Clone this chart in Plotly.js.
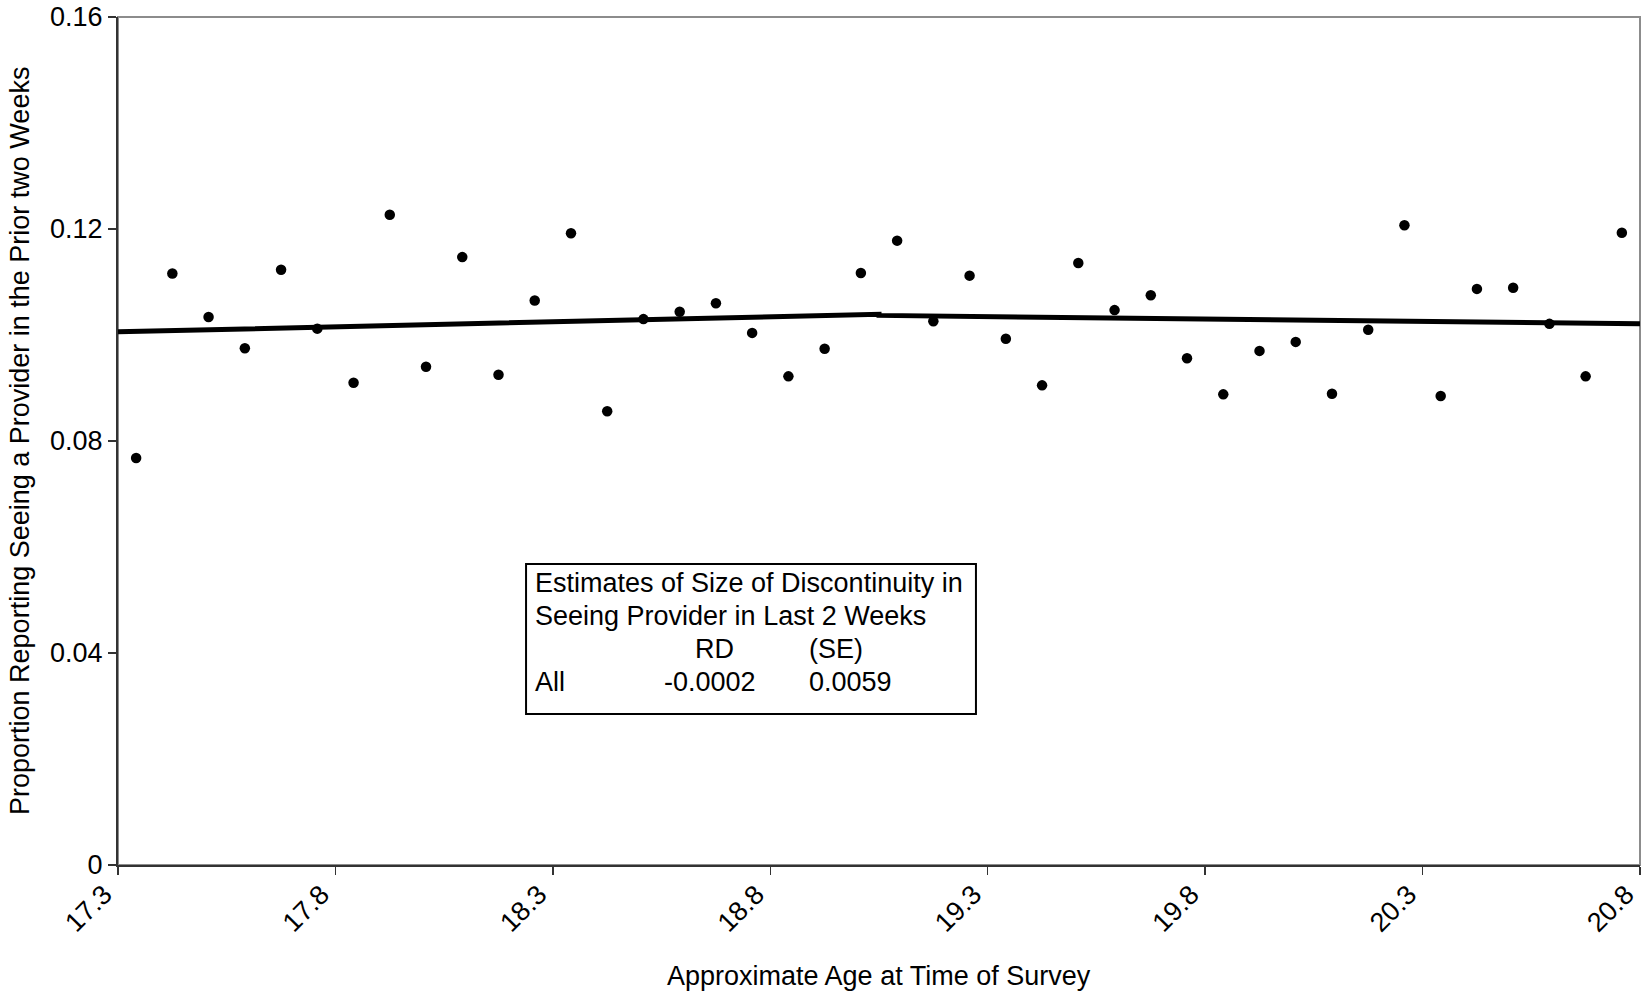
<!DOCTYPE html>
<html>
<head>
<meta charset="utf-8">
<script src="https://cdn.plot.ly/plotly-3.0.1.min.js"></script>
<style>
  html, body { margin: 0; padding: 0; background: #fff; }
  #chart { width: 1642px; height: 997px; }
</style>
</head>
<body>
<div id="chart"></div>
<script>
// Monthly age bins (years) and the share who saw a provider in the prior two weeks
const ageBins = [17.3417, 17.425, 17.5083, 17.5917, 17.675, 17.7583, 17.8417, 17.925,
  18.0083, 18.0917, 18.175, 18.2583, 18.3417, 18.425, 18.5083, 18.5917, 18.675,
  18.7583, 18.8417, 18.925, 19.0083, 19.0917, 19.175, 19.2583, 19.3417, 19.425,
  19.5083, 19.5917, 19.675, 19.7583, 19.8417, 19.925, 20.0083, 20.0917, 20.175,
  20.2583, 20.3417, 20.425, 20.5083, 20.5917, 20.675, 20.7583];
const shareSeen = [0.0768, 0.1116, 0.1034, 0.0975, 0.1123, 0.1012, 0.0910, 0.1227,
  0.0940, 0.1147, 0.0925, 0.1065, 0.1192, 0.0856, 0.1030, 0.1044, 0.1060,
  0.1004, 0.0922, 0.0974, 0.1117, 0.1178, 0.1026, 0.1112, 0.0993, 0.0905,
  0.1136, 0.1047, 0.1075, 0.0956, 0.0888, 0.0970, 0.0987, 0.0889, 0.1010,
  0.1207, 0.0885, 0.1087, 0.1089, 0.1021, 0.0922, 0.1193];

// Fitted values on each side of the cutoff (left fit ends, right fit starts at 19.05)
const fitAge = [17.3, 19.05, 19.05, 20.8];
const fitShare = [0.1006, 0.1039, 0.1037, 0.1021];

// Axis ticks
const xTickVals = [17.3, 17.8, 18.3, 18.8, 19.3, 19.8, 20.3, 20.8];
const xTickText = ['17.3', '17.8', '18.3', '18.8', '19.3', '19.8', '20.3', '20.8'];
const yTickVals = [0, 0.04, 0.08, 0.12, 0.16];
const yTickText = ['0', '0.04', '0.08', '0.12', '0.16'];

// Discontinuity estimate table
const estTitle = ['Estimates of Size of Discontinuity in', 'Seeing Provider in Last 2 Weeks'];
const estHeader = ['RD', '(SE)'];
const estRow = ['All', '-0.0002', '0.0059'];

const FONT = 'Liberation Sans, Arial, sans-serif';
const FS = 27;

const traces = [
  {
    x: ageBins, y: shareSeen, type: 'scatter', mode: 'markers',
    marker: { color: '#000', size: 10.5 }, hoverinfo: 'x+y'
  },
  {
    x: fitAge, y: fitShare, type: 'scatter', mode: 'lines',
    line: { color: '#000', width: 5 }, hoverinfo: 'skip'
  }
];

function txt(text, x, y, xanchor) {
  return { text: text, xref: 'paper', yref: 'paper', x: x, y: y,
    xanchor: xanchor, yanchor: 'middle', showarrow: false,
    font: { family: FONT, size: FS, color: '#000' } };
}

const annotations = [
  txt(estTitle[0], 0.2724, 0.3329, 'left'),
  txt(estTitle[1], 0.2724, 0.2936, 'left'),
  txt(estHeader[0], 0.3916, 0.2544, 'center'),
  txt(estHeader[1], 0.4527, 0.2544, 'left'),
  txt(estRow[0], 0.2724, 0.2162, 'left'),
  txt(estRow[1], 0.3890, 0.2162, 'center'),
  txt(estRow[2], 0.4527, 0.2162, 'left'),
  txt('Approximate Age at Time of Survey', 0.5, -0.1309, 'center'),
  Object.assign(txt('Proportion Reporting Seeing a Provider in the Prior two Weeks', -0.0644, 0.5, 'center'), { textangle: -90 })
];

const layout = {
  width: 1642, height: 997,
  margin: { l: 118, r: 2, t: 17, b: 132 },
  paper_bgcolor: '#fff', plot_bgcolor: '#fff',
  showlegend: false,
  font: { family: FONT, size: FS, color: '#000' },
  xaxis: {
    range: [17.3, 20.80001], tickmode: 'array', tickvals: xTickVals, ticktext: xTickText,
    tickangle: -45, ticks: 'outside', ticklen: 8, tickwidth: 1.5, tickcolor: '#333',
    ticklabelshift: -14, ticklabelstandoff: -7,
    showline: true, linecolor: '#333', linewidth: 2, showgrid: false, zeroline: false,
    tickfont: { family: FONT, size: FS, color: '#000' }
  },
  yaxis: {
    range: [0, 0.16], tickmode: 'array', tickvals: yTickVals, ticktext: yTickText,
    ticks: 'outside', ticklen: 8, tickwidth: 1.5, tickcolor: '#333',
    showline: true, linecolor: '#333', linewidth: 2, showgrid: false, zeroline: false,
    tickfont: { family: FONT, size: FS, color: '#000' }
  },
  shapes: [
    // plot area frame (top and right edges show gray)
    { type: 'rect', xref: 'paper', yref: 'paper', x0: 0, x1: 1, y0: 0, y1: 1,
      line: { color: '#8c8c8c', width: 2 }, layer: 'below' },
    // estimate table box
    { type: 'rect', xref: 'paper', yref: 'paper', x0: 0.2681, x1: 0.5637, y0: 0.178, y1: 0.355,
      line: { color: '#000', width: 2 }, fillcolor: '#fff', layer: 'above' }
  ],
  annotations: annotations
};

Plotly.newPlot('chart', traces, layout, { displayModeBar: false, staticPlot: true });
</script>
</body>
</html>
